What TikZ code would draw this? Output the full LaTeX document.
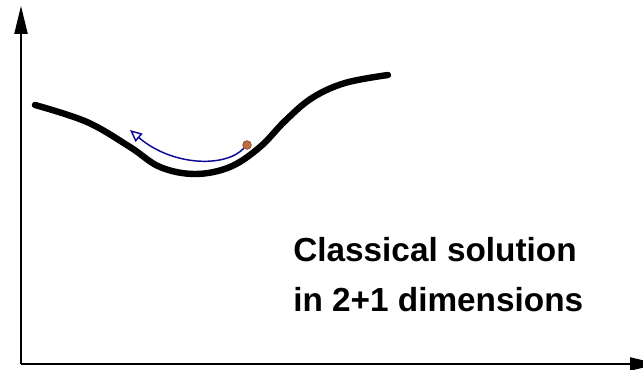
\documentclass[tikz,border=0pt]{standalone}
\usepackage{fontspec}
\setmainfont{Liberation Sans}
\usetikzlibrary{arrows.meta}
\definecolor{trajblue}{RGB}{10,10,150}
\definecolor{ballfill}{RGB}{190,110,65}
\definecolor{balldraw}{RGB}{140,70,35}

\begin{document}
\begin{tikzpicture}[x=0.75pt,y=-0.75pt,
  axis/.style={line width=0.9pt,-{Triangle[length=21pt,width=10pt]}},
  soliton/.style={line width=4.8pt,line cap=round},
  traj/.style={trajblue,line width=1.1pt,-{Triangle[open,length=9pt,width=8pt]}},
  ball/.style={circle,fill=ballfill,draw=balldraw,line width=0.5pt,inner sep=0pt,minimum size=6.5pt}]
  \useasboundingbox (0,0) rectangle (643,370);
  % ejes
  \coordinate (origin) at (21,364);
  \coordinate (ytip) at (21,6);
  \coordinate (xtip) at (658,364);
  \draw[axis] (origin)--(ytip);
  \draw[axis] (origin)--(xtip);
  % solucion clasica
  \draw[soliton] plot[smooth,tension=0.6] coordinates {(35,105) (87,122) (130,147) (160,167) (195,174) (230,167) (260,147) (285,121) (312,98) (345,83) (388,75)};
  % particula y trayectoria
  \node[ball] (pt) at (247,145) {};
  \coordinate (tip) at (130,130);
  \draw[traj] (pt) .. controls (225,168) and (172,166) .. (tip);
  \node[anchor=base west,align=left,inner sep=0pt,font=\fontsize{25}{37.5}\selectfont\bfseries] (label) at (293,312) {Classical solution\\in 2+1 dimensions};
\end{tikzpicture}
\end{document}
